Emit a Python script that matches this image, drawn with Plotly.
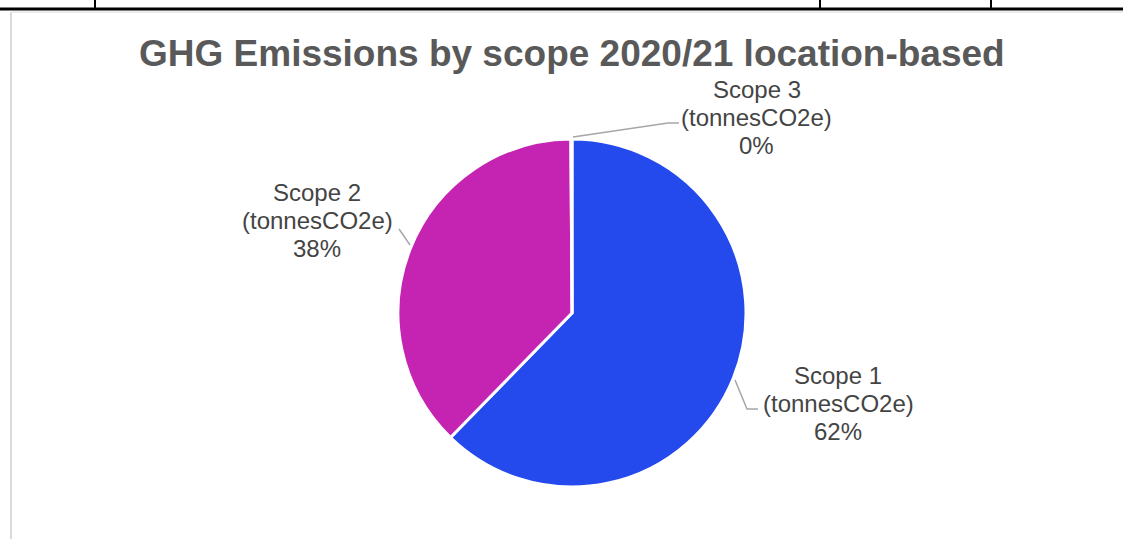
import plotly.graph_objects as go

# ---- data ----
categories = ["Scope 1 (tonnesCO2e)", "Scope 2 (tonnesCO2e)", "Scope 3 (tonnesCO2e)"]
values = [623, 376, 1]
colors = ["#2449EC", "#C524B3", "#9E9E9E"]
title_text = "GHG Emissions by scope 2020/21 location-based"

W, H = 1123, 539


def px(x):
    return x / W


def py(y):
    return 1 - y / H


total = sum(values)
pcts = [round(100 * v / total) for v in values]

fig = go.Figure()
fig.add_trace(go.Pie(
    labels=categories,
    values=values,
    sort=False,
    direction="clockwise",
    rotation=0,
    marker=dict(colors=colors, line=dict(color="white", width=3)),
    textinfo="none",
    showlegend=False,
    domain=dict(x=[px(398), px(746)], y=[py(487), py(139)]),
))

# label annotations (position like the reference), one per text line
label_pos = [(838, 403), (317, 220), (757, 117)]
line_gap = 28
annotations = []
for cat, pct, (lx, ly) in zip(categories, pcts, label_pos):
    name, unit = cat.split(" (")
    lines = [name, "(" + unit, f"{pct}%"]
    for i, t in enumerate(lines):
        annotations.append(dict(
            x=px(lx), y=py(ly + (i - 1) * line_gap), xref="paper", yref="paper",
            text=t, showarrow=False, xanchor="center", yanchor="middle",
            font=dict(family="Arial, Liberation Sans", size=24, color="#444444"),
        ))

annotations.append(dict(
    x=px(572), y=py(53), xref="paper", yref="paper", text=f"<b>{title_text}</b>",
    showarrow=False, xanchor="center", yanchor="middle",
    font=dict(family="Arial, Liberation Sans", size=37, color="#595959"),
))

shapes = []
# leader lines
leaders = [
    [(735, 380), (747, 409), (758, 409)],
    [(399, 229), (410, 245)],
    [(573, 137), (668, 123), (679, 123)],
]
for pts in leaders:
    path = "M " + " L ".join(f"{px(x)},{py(y)}" for x, y in pts)
    shapes.append(dict(type="path", path=path, xref="paper", yref="paper",
                       line=dict(color="#A6A6A6", width=1.5)))

# spreadsheet grid / chart box decoration
shapes.append(dict(type="line", xref="paper", yref="paper", x0=0, x1=1, y0=py(9), y1=py(9),
                   line=dict(color="black", width=3)))
for vx in [95, 820, 991]:
    shapes.append(dict(type="line", xref="paper", yref="paper", x0=px(vx), x1=px(vx), y0=py(0), y1=py(9),
                       line=dict(color="black", width=2)))
shapes.append(dict(type="line", xref="paper", yref="paper", x0=px(11), x1=px(11), y0=py(12), y1=0,
                   line=dict(color="#D9D9D9", width=2)))
shapes.append(dict(type="line", xref="paper", yref="paper", x0=px(11), x1=1, y0=py(12), y1=py(12),
                   line=dict(color="#E6E6E6", width=1.5)))

fig.update_layout(
    width=W, height=H,
    margin=dict(l=0, r=0, t=0, b=0),
    paper_bgcolor="white", plot_bgcolor="white",
    annotations=annotations,
    shapes=shapes,
)

fig.write_html("out.html", config={"displayModeBar": False},
               post_script="document.body.style.margin='0';")
